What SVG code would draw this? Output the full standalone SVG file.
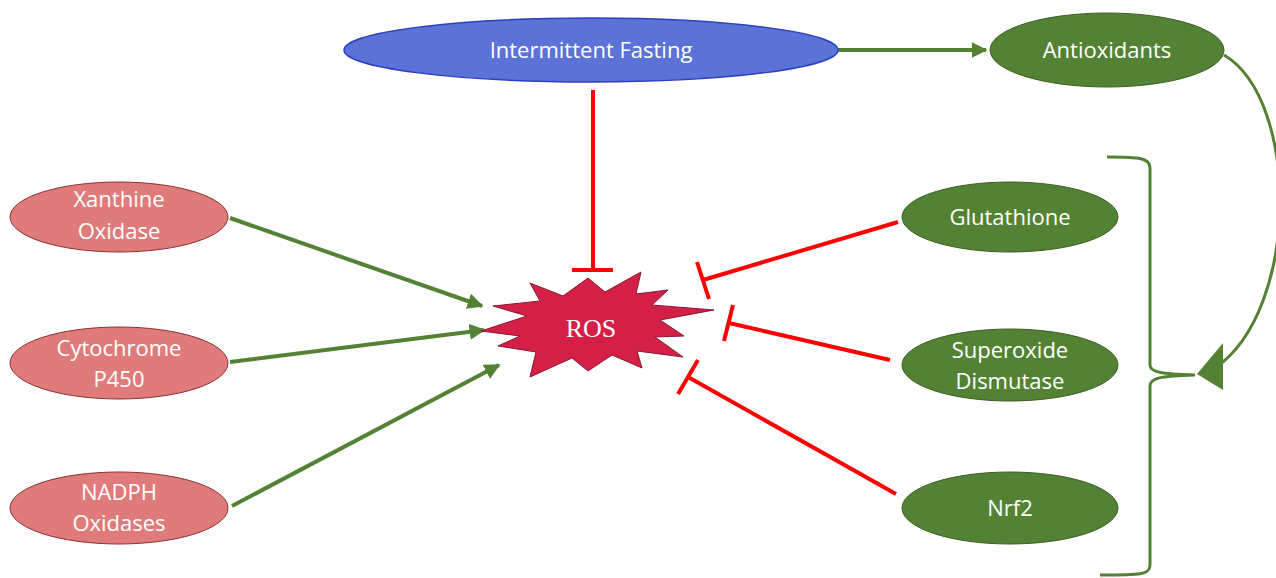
<svg xmlns="http://www.w3.org/2000/svg" width="1276" height="578" viewBox="0 0 1276 578">
<style>
.t{font-family:"Open Sans","Liberation Sans",sans-serif;font-size:22px;fill:#fff;text-anchor:middle}
.red{fill:#E07B7B;stroke:#8B3030;stroke-width:1}
.grn{fill:#548235;stroke:#3B5E24;stroke-width:1}
.ga{stroke:#548235;stroke-width:4;fill:none}
.ri{stroke:#FF0000;stroke-width:4;fill:none}
</style>
<defs>
<marker id="ah" viewBox="0 0 10 10" refX="9" refY="5" markerWidth="4" markerHeight="4" orient="auto" markerUnits="strokeWidth">
<path d="M0,0 L10,5 L0,10 z" fill="#548235"/>
</marker>
</defs>
<g id="connectors">
<line class="ga" x1="838" y1="50" x2="986" y2="50" marker-end="url(#ah)"/>
<line class="ga" x1="230" y1="218" x2="482" y2="306" marker-end="url(#ah)"/>
<line class="ga" x1="230" y1="362" x2="484" y2="330" marker-end="url(#ah)"/>
<line class="ga" x1="232" y1="506" x2="499" y2="365" marker-end="url(#ah)"/>
<path class="ri" d="M593,90 L593,270 M572,270 L613,270"/>
<path class="ri" d="M898,222 L703,280 M697,262 L709,299"/>
<path class="ri" d="M890,360 L729,323 M733,305 L724,341"/>
<path class="ri" d="M896,494 L688,377 M678,394 L698,360"/>
<path d="M1107,157 C1140,157 1150,158 1150,168 L1150,365 C1150,372 1160,374 1195,375 C1160,376 1150,378 1150,386 L1150,565 C1150,575 1140,575 1100,575" stroke="#548235" stroke-width="3" fill="none"/>
<path d="M1224,55 C1300,100 1300,310 1215,368" stroke="#548235" stroke-width="3" fill="none"/>
<path d="M1197,374 L1223,343 L1223,390 z" fill="#548235"/>
</g>
<g id="ros">
<path d="M481,331 L527,316 L493,306 L540,301 L530,283 L563,296 L588,278 L605,292 L641,272 L636,294 L668,290 L652,305 L714,310 L660,320 L684,336 L655,337 L683,357 L637,351 L642,368 L612,355 L588,371 L572,358 L530,377 L536,352 L498,346 L520,336 z" fill="#D42047" stroke="#8A1730" stroke-width="1"/>
<text x="591" y="337" font-family="'Liberation Serif',serif" font-size="26" fill="#fff" text-anchor="middle">ROS</text>
</g>
<g id="if">
<ellipse cx="591" cy="50" rx="247" ry="32" fill="#5B73D6" stroke="#2B3FBF" stroke-width="1.5"/>
<text class="t" x="591" y="58">Intermittent Fasting</text>
</g>
<g id="antioxidants">
<ellipse class="grn" cx="1107" cy="50" rx="117" ry="37"/>
<text class="t" x="1107" y="58">Antioxidants</text>
</g>
<g id="xanthine">
<ellipse class="red" cx="119" cy="217" rx="109" ry="35"/>
<text class="t" x="119" y="207">Xanthine</text>
<text class="t" x="119" y="239">Oxidase</text>
</g>
<g id="cytochrome">
<ellipse class="red" cx="119" cy="363" rx="109" ry="36"/>
<text class="t" x="119" y="356">Cytochrome</text>
<text class="t" x="119" y="387">P450</text>
</g>
<g id="nadph">
<ellipse class="red" cx="119" cy="508" rx="109" ry="36"/>
<text class="t" x="119" y="500">NADPH</text>
<text class="t" x="119" y="531">Oxidases</text>
</g>
<g id="glutathione">
<ellipse class="grn" cx="1010" cy="217" rx="108" ry="35"/>
<text class="t" x="1010" y="225">Glutathione</text>
</g>
<g id="sod">
<ellipse class="grn" cx="1010" cy="365" rx="108" ry="36"/>
<text class="t" x="1010" y="358">Superoxide</text>
<text class="t" x="1010" y="389">Dismutase</text>
</g>
<g id="nrf2">
<ellipse class="grn" cx="1010" cy="508" rx="108" ry="36"/>
<text class="t" x="1010" y="516">Nrf2</text>
</g>
</svg>
